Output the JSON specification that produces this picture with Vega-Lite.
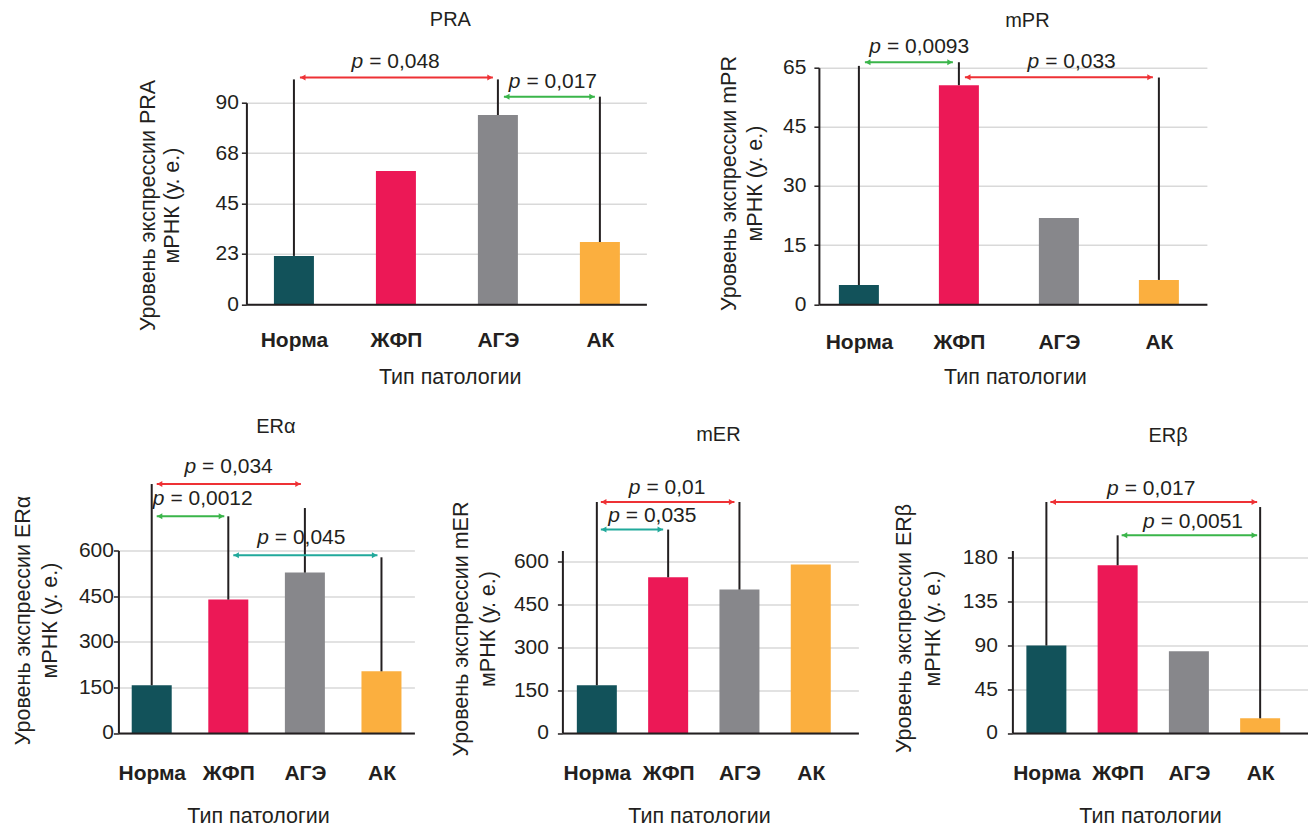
{
  "$schema": "https://vega.github.io/schema/vega-lite/v6.json",
  "background": "white",
  "padding": {"left": 11.4, "top": 9.7, "right": 0, "bottom": 0},
  "datasets": {
    "pra": [
      {"g": "Норма", "i": 0, "v": 21.6, "up": 100.4},
      {"g": "ЖФП", "i": 1, "v": 59.5},
      {"g": "АГЭ", "i": 2, "v": 84.5, "up": 100.4},
      {"g": "АК", "i": 3, "v": 27.8, "up": 92.7}
    ],
    "pra_p": [
      {"from": 0, "to": 2, "y": 101.3, "tx": 0.708, "label": "= 0,048", "arrow": "red"},
      {"from": 2, "to": 3, "y": 92.7, "tx": 2.25, "label": "= 0,017", "arrow": "green"}
    ],
    "mpr": [
      {"g": "Норма", "i": 0, "v": 5.3, "up": 65.5},
      {"g": "ЖФП", "i": 1, "v": 60.2, "up": 66.5},
      {"g": "АГЭ", "i": 2, "v": 23.7},
      {"g": "АК", "i": 3, "v": 6.7, "up": 62.3}
    ],
    "mpr_p": [
      {"from": 0, "to": 1, "y": 66.5, "tx": 0.25, "label": "= 0,0093", "arrow": "green"},
      {"from": 1, "to": 3, "y": 62.4, "tx": 1.833, "label": "= 0,033", "arrow": "red"}
    ],
    "era": [
      {"g": "Норма", "i": 0, "v": 156.8, "up": 818.5},
      {"g": "ЖФП", "i": 1, "v": 438.5, "up": 712.4},
      {"g": "АГЭ", "i": 2, "v": 527.3, "up": 739.6},
      {"g": "АК", "i": 3, "v": 202.8, "up": 577.6}
    ],
    "era_p": [
      {"from": 0, "to": 2, "y": 818.5, "tx": 0.619, "label": "= 0,034", "arrow": "red"},
      {"from": 0, "to": 1, "y": 712.4, "tx": 0.205, "label": "= 0,0012", "arrow": "green"},
      {"from": 1, "to": 3, "y": 584.2, "tx": 1.568, "label": "= 0,045", "arrow": "teal"}
    ],
    "mer": [
      {"g": "Норма", "i": 0, "v": 166.5, "up": 806.3},
      {"g": "ЖФП", "i": 1, "v": 543.5, "up": 710},
      {"g": "АГЭ", "i": 2, "v": 500.5, "up": 806.3},
      {"g": "АК", "i": 3, "v": 587.8}
    ],
    "mer_p": [
      {"from": 0, "to": 2, "y": 806.3, "tx": 0.654, "label": "= 0,01", "arrow": "red"},
      {"from": 0, "to": 1, "y": 710, "tx": 0.365, "label": "= 0,035", "arrow": "teal"}
    ],
    "erb": [
      {"g": "Норма", "i": 0, "v": 89.9, "up": 237.6},
      {"g": "ЖФП", "i": 1, "v": 172.5, "up": 203.3},
      {"g": "АГЭ", "i": 2, "v": 84},
      {"g": "АК", "i": 3, "v": 15.1, "up": 232.4}
    ],
    "erb_p": [
      {"from": 0, "to": 3, "y": 237.6, "tx": 1.058, "label": "= 0,017", "arrow": "red"},
      {"from": 1, "to": 3, "y": 203.3, "tx": 1.563, "label": "= 0,0051", "arrow": "green"}
    ]
  },
  "spacing": 27.8,
  "vconcat": [
    {
      "spacing": 0,
      "hconcat": [
        {"width": 17.6, "height": 10, "data": {"values": []}, "mark": {"type": "point"}, "encoding": {}},
        {
          "spacing": 71.5,
          "hconcat": [
            {
              "width": 400, "height": 236.6,
              "title": {"text": "PRA", "offset": 5, "dx": 4, "baseline": "alphabetic", "anchor": "middle", "frame": "group"},
              "layer": [
                {"data": {"name": "pra"}, "mark": {"type": "bar", "orient": "vertical", "size": 40},
                 "encoding": {
                   "x": {"field": "i", "type": "quantitative", "scale": {"domain": [-0.466, 3.456], "nice": false, "zero": false, "padding": 0},
                         "axis": {"title": "Тип патологии", "values": [0, 1, 2, 3], "labelExpr": "['Норма','ЖФП','АГЭ','АК'][datum.value]", "grid": false, "ticks": false, "tickSize": 0, "labelPadding": 42.4, "labelBaseline": "alphabetic", "labelFontWeight": "bold", "labelFontSize": 21, "labelFlush": false, "labelOverlap": false, "titleX": 203.3, "titleY": 79, "titleBaseline": "alphabetic", "zindex": 1}},
                   "y": {"field": "v", "type": "quantitative", "scale": {"domain": [0, 90], "range": [236.6, 35], "nice": false},
                         "axis": {"title": ["Уровень экспрессии PRA", "мРНК (у. е.)"], "values": [0, 22.5, 45, 67.5, 90], "format": ".0f", "labelPadding": 3, "titleX": -87, "titleY": 137.3, "titleLineHeight": 24}},
                   "color": {"field": "g", "type": "nominal", "scale": {"domain": ["Норма", "ЖФП", "АГЭ", "АК", "red", "green", "teal"], "range": ["#12525A", "#EC1856", "#87878B", "#FBAF3F", "#EE3135", "#3AB54A", "#21A99B"]}, "legend": null}
                 }},
                {"data": {"name": "pra"}, "transform": [{"filter": {"field": "up", "valid": true}}], "mark": {"type": "rule", "color": "#231F20", "strokeWidth": 2},
                 "encoding": {"x": {"field": "i", "type": "quantitative"}, "y": {"field": "v", "type": "quantitative"}, "y2": {"field": "up"}}},
                {"data": {"name": "pra_p"}, "mark": {"type": "rule", "strokeWidth": 2, "xOffset": 6, "x2Offset": -5},
                 "encoding": {"x": {"field": "from", "type": "quantitative"}, "x2": {"field": "to"}, "y": {"field": "y", "type": "quantitative"}, "color": {"field": "arrow", "type": "nominal", "legend": null}}},
                {"data": {"name": "pra_p"}, "mark": {"type": "point", "shape": "triangle-left", "filled": true, "size": 36, "opacity": 1, "xOffset": 9},
                 "encoding": {"x": {"field": "from", "type": "quantitative"}, "y": {"field": "y", "type": "quantitative"}, "color": {"field": "arrow", "type": "nominal", "legend": null}}},
                {"data": {"name": "pra_p"}, "mark": {"type": "point", "shape": "triangle-right", "filled": true, "size": 36, "opacity": 1, "xOffset": -8},
                 "encoding": {"x": {"field": "to", "type": "quantitative"}, "y": {"field": "y", "type": "quantitative"}, "color": {"field": "arrow", "type": "nominal", "legend": null}}},
                {"data": {"name": "pra_p"}, "mark": {"type": "text", "text": "p", "fontStyle": "italic", "align": "right", "baseline": "alphabetic", "dx": -3, "dy": -9, "fontSize": 21, "color": "#231F20"},
                 "encoding": {"x": {"field": "tx", "type": "quantitative"}, "y": {"field": "y", "type": "quantitative"}}},
                {"data": {"name": "pra_p"}, "mark": {"type": "text", "align": "left", "baseline": "alphabetic", "dx": 3, "dy": -9, "fontSize": 21, "color": "#231F20"},
                 "encoding": {"x": {"field": "tx", "type": "quantitative"}, "y": {"field": "y", "type": "quantitative"}, "text": {"field": "label"}}}
              ]
            },
            {
              "width": 388, "height": 236.6,
              "title": {"text": "mPR", "offset": -11, "dx": 14.5, "baseline": "alphabetic", "anchor": "middle", "frame": "group"},
              "layer": [
                {"data": {"name": "mpr"}, "mark": {"type": "bar", "orient": "vertical", "size": 40},
                 "encoding": {
                   "x": {"field": "i", "type": "quantitative", "scale": {"domain": [-0.4, 3.48], "nice": false, "zero": false, "padding": 0},
                         "axis": {"title": "Тип патологии", "values": [0, 1, 2, 3], "labelExpr": "['Норма','ЖФП','АГЭ','АК'][datum.value]", "grid": false, "ticks": false, "tickSize": 0, "labelPadding": 44, "labelBaseline": "alphabetic", "labelFontWeight": "bold", "labelFontSize": 21, "labelFlush": false, "labelOverlap": false, "titleX": 196, "titleY": 79.7, "titleBaseline": "alphabetic", "zindex": 1}},
                   "y": {"field": "v", "type": "quantitative", "scale": {"domain": [0, 65], "nice": false},
                         "axis": {"title": ["Уровень экспрессии mPR", "мРНК (у. е.)"], "values": [0, 16.25, 32.5, 48.75, 65], "labelExpr": "datum.value == 65 ? '65' : format(datum.value * 12 / 13, '.0f')", "labelPadding": 8, "titleX": -78.7, "titleY": 115.3, "titleLineHeight": 26.6}},
                   "color": {"field": "g", "type": "nominal", "scale": {"domain": ["Норма", "ЖФП", "АГЭ", "АК", "red", "green", "teal"], "range": ["#12525A", "#EC1856", "#87878B", "#FBAF3F", "#EE3135", "#3AB54A", "#21A99B"]}, "legend": null}
                 }},
                {"data": {"name": "mpr"}, "transform": [{"filter": {"field": "up", "valid": true}}], "mark": {"type": "rule", "color": "#231F20", "strokeWidth": 2},
                 "encoding": {"x": {"field": "i", "type": "quantitative"}, "y": {"field": "v", "type": "quantitative"}, "y2": {"field": "up"}}},
                {"data": {"name": "mpr_p"}, "mark": {"type": "rule", "strokeWidth": 2, "xOffset": 6, "x2Offset": -6},
                 "encoding": {"x": {"field": "from", "type": "quantitative"}, "x2": {"field": "to"}, "y": {"field": "y", "type": "quantitative"}, "color": {"field": "arrow", "type": "nominal", "legend": null}}},
                {"data": {"name": "mpr_p"}, "mark": {"type": "point", "shape": "triangle-left", "filled": true, "size": 36, "opacity": 1, "xOffset": 9},
                 "encoding": {"x": {"field": "from", "type": "quantitative"}, "y": {"field": "y", "type": "quantitative"}, "color": {"field": "arrow", "type": "nominal", "legend": null}}},
                {"data": {"name": "mpr_p"}, "mark": {"type": "point", "shape": "triangle-right", "filled": true, "size": 36, "opacity": 1, "xOffset": -9},
                 "encoding": {"x": {"field": "to", "type": "quantitative"}, "y": {"field": "y", "type": "quantitative"}, "color": {"field": "arrow", "type": "nominal", "legend": null}}},
                {"data": {"name": "mpr_p"}, "mark": {"type": "text", "text": "p", "fontStyle": "italic", "align": "right", "baseline": "alphabetic", "dx": -3, "dy": -9, "fontSize": 21, "color": "#231F20"},
                 "encoding": {"x": {"field": "tx", "type": "quantitative"}, "y": {"field": "y", "type": "quantitative"}}},
                {"data": {"name": "mpr_p"}, "mark": {"type": "text", "align": "left", "baseline": "alphabetic", "dx": 3, "dy": -9, "fontSize": 21, "color": "#231F20"},
                 "encoding": {"x": {"field": "tx", "type": "quantitative"}, "y": {"field": "y", "type": "quantitative"}, "text": {"field": "label"}}}
              ]
            }
          ]
        }
      ]
    },
    {
      "spacing": 35,
      "hconcat": [
        {
          "width": 296, "height": 182.5,
          "title": {"text": "ERα", "offset": 3, "dx": 9.5, "baseline": "alphabetic", "anchor": "middle", "frame": "group"},
          "layer": [
            {"data": {"name": "era"}, "mark": {"type": "bar", "orient": "vertical", "size": 40},
             "encoding": {
               "x": {"field": "i", "type": "quantitative", "scale": {"domain": [-0.435, 3.43], "nice": false, "zero": false, "padding": 0},
                     "axis": {"title": "Тип патологии", "values": [0, 1, 2, 3], "labelExpr": "['Норма','ЖФП','АГЭ','АК'][datum.value]", "grid": false, "ticks": false, "tickSize": 0, "labelPadding": 46.6, "labelBaseline": "alphabetic", "labelFontWeight": "bold", "labelFontSize": 21, "labelFlush": false, "labelOverlap": false, "titleX": 139.7, "titleY": 90, "titleBaseline": "alphabetic", "zindex": 1}},
               "y": {"field": "v", "type": "quantitative", "scale": {"domain": [0, 600], "nice": false},
                     "axis": {"title": ["Уровень экспрессии ERα", "мРНК (у. е.)"], "values": [0, 150, 300, 450, 600], "labelPadding": 0, "titleX": -84.3, "titleY": 69.5, "titleLineHeight": 27.5}},
               "color": {"field": "g", "type": "nominal", "scale": {"domain": ["Норма", "ЖФП", "АГЭ", "АК", "red", "green", "teal"], "range": ["#12525A", "#EC1856", "#87878B", "#FBAF3F", "#EE3135", "#3AB54A", "#21A99B"]}, "legend": null}
             }},
            {"data": {"name": "era"}, "transform": [{"filter": {"field": "up", "valid": true}}], "mark": {"type": "rule", "color": "#231F20", "strokeWidth": 2},
             "encoding": {"x": {"field": "i", "type": "quantitative"}, "y": {"field": "v", "type": "quantitative"}, "y2": {"field": "up"}}},
            {"data": {"name": "era_p"}, "mark": {"type": "rule", "strokeWidth": 2, "xOffset": 5, "x2Offset": -4},
             "encoding": {"x": {"field": "from", "type": "quantitative"}, "x2": {"field": "to"}, "y": {"field": "y", "type": "quantitative"}, "color": {"field": "arrow", "type": "nominal", "legend": null}}},
            {"data": {"name": "era_p"}, "mark": {"type": "point", "shape": "triangle-left", "filled": true, "size": 36, "opacity": 1, "xOffset": 8},
             "encoding": {"x": {"field": "from", "type": "quantitative"}, "y": {"field": "y", "type": "quantitative"}, "color": {"field": "arrow", "type": "nominal", "legend": null}}},
            {"data": {"name": "era_p"}, "mark": {"type": "point", "shape": "triangle-right", "filled": true, "size": 36, "opacity": 1, "xOffset": -7},
             "encoding": {"x": {"field": "to", "type": "quantitative"}, "y": {"field": "y", "type": "quantitative"}, "color": {"field": "arrow", "type": "nominal", "legend": null}}},
            {"data": {"name": "era_p"}, "mark": {"type": "text", "text": "p", "fontStyle": "italic", "align": "right", "baseline": "alphabetic", "dx": -3, "dy": -11, "fontSize": 21, "color": "#231F20"},
             "encoding": {"x": {"field": "tx", "type": "quantitative"}, "y": {"field": "y", "type": "quantitative"}}},
            {"data": {"name": "era_p"}, "mark": {"type": "text", "align": "left", "baseline": "alphabetic", "dx": 3, "dy": -11, "fontSize": 21, "color": "#231F20"},
             "encoding": {"x": {"field": "tx", "type": "quantitative"}, "y": {"field": "y", "type": "quantitative"}, "text": {"field": "label"}}}
          ]
        },
        {
          "width": 296, "height": 182.5,
          "title": {"text": "mER", "offset": 16.3, "dx": 8, "baseline": "alphabetic", "anchor": "middle", "frame": "group"},
          "layer": [
            {"data": {"name": "mer"}, "mark": {"type": "bar", "orient": "vertical", "size": 40},
             "encoding": {
               "x": {"field": "i", "type": "quantitative", "scale": {"domain": [-0.483, 3.668], "nice": false, "zero": false, "padding": 0},
                     "axis": {"title": "Тип патологии", "values": [0, 1, 2, 3], "labelExpr": "['Норма','ЖФП','АГЭ','АК'][datum.value]", "grid": false, "ticks": false, "tickSize": 0, "labelPadding": 46.6, "labelBaseline": "alphabetic", "labelFontWeight": "bold", "labelFontSize": 21, "labelFlush": false, "labelOverlap": false, "titleX": 136.7, "titleY": 90, "titleBaseline": "alphabetic", "zindex": 1}},
               "y": {"field": "v", "type": "quantitative", "scale": {"domain": [0, 637], "nice": false},
                     "axis": {"title": ["Уровень экспрессии mER", "мРНК (у. е.)"], "values": [0, 150, 300, 450, 600], "labelPadding": 9, "titleX": -90.2, "titleY": 78, "titleLineHeight": 27.7}},
               "color": {"field": "g", "type": "nominal", "scale": {"domain": ["Норма", "ЖФП", "АГЭ", "АК", "red", "green", "teal"], "range": ["#12525A", "#EC1856", "#87878B", "#FBAF3F", "#EE3135", "#3AB54A", "#21A99B"]}, "legend": null}
             }},
            {"data": {"name": "mer"}, "transform": [{"filter": {"field": "up", "valid": true}}], "mark": {"type": "rule", "color": "#231F20", "strokeWidth": 2},
             "encoding": {"x": {"field": "i", "type": "quantitative"}, "y": {"field": "v", "type": "quantitative"}, "y2": {"field": "up"}}},
            {"data": {"name": "mer_p"}, "mark": {"type": "rule", "strokeWidth": 2, "xOffset": 4, "x2Offset": -5},
             "encoding": {"x": {"field": "from", "type": "quantitative"}, "x2": {"field": "to"}, "y": {"field": "y", "type": "quantitative"}, "color": {"field": "arrow", "type": "nominal", "legend": null}}},
            {"data": {"name": "mer_p"}, "mark": {"type": "point", "shape": "triangle-left", "filled": true, "size": 36, "opacity": 1, "xOffset": 7},
             "encoding": {"x": {"field": "from", "type": "quantitative"}, "y": {"field": "y", "type": "quantitative"}, "color": {"field": "arrow", "type": "nominal", "legend": null}}},
            {"data": {"name": "mer_p"}, "mark": {"type": "point", "shape": "triangle-right", "filled": true, "size": 36, "opacity": 1, "xOffset": -8},
             "encoding": {"x": {"field": "to", "type": "quantitative"}, "y": {"field": "y", "type": "quantitative"}, "color": {"field": "arrow", "type": "nominal", "legend": null}}},
            {"data": {"name": "mer_p"}, "mark": {"type": "text", "text": "p", "fontStyle": "italic", "align": "right", "baseline": "alphabetic", "dx": -3, "dy": -8, "fontSize": 21, "color": "#231F20"},
             "encoding": {"x": {"field": "tx", "type": "quantitative"}, "y": {"field": "y", "type": "quantitative"}}},
            {"data": {"name": "mer_p"}, "mark": {"type": "text", "align": "left", "baseline": "alphabetic", "dx": 3, "dy": -8, "fontSize": 21, "color": "#231F20"},
             "encoding": {"x": {"field": "tx", "type": "quantitative"}, "y": {"field": "y", "type": "quantitative"}, "text": {"field": "label"}}}
          ]
        },
        {
          "width": 296, "height": 182.5,
          "title": {"text": "ERβ", "offset": 16.4, "dx": 7.7, "baseline": "alphabetic", "anchor": "middle", "frame": "group"},
          "layer": [
            {"data": {"name": "erb"}, "mark": {"type": "bar", "orient": "vertical", "size": 40},
             "encoding": {
               "x": {"field": "i", "type": "quantitative", "scale": {"domain": [-0.477, 3.677], "nice": false, "zero": false, "padding": 0},
                     "axis": {"title": "Тип патологии", "values": [0, 1, 2, 3], "labelExpr": "['Норма','ЖФП','АГЭ','АК'][datum.value]", "grid": false, "ticks": false, "tickSize": 0, "labelPadding": 46.6, "labelBaseline": "alphabetic", "labelFontWeight": "bold", "labelFontSize": 21, "labelFlush": false, "labelOverlap": false, "titleX": 137.7, "titleY": 90, "titleBaseline": "alphabetic", "zindex": 1}},
               "y": {"field": "v", "type": "quantitative", "scale": {"domain": [0, 187.7], "nice": false},
                     "axis": {"title": ["Уровень экспрессии ERβ", "мРНК (у. е.)"], "values": [0, 45, 90, 135, 180], "labelPadding": 10, "titleX": -96.6, "titleY": 77.5, "titleLineHeight": 29}},
               "color": {"field": "g", "type": "nominal", "scale": {"domain": ["Норма", "ЖФП", "АГЭ", "АК", "red", "green", "teal"], "range": ["#12525A", "#EC1856", "#87878B", "#FBAF3F", "#EE3135", "#3AB54A", "#21A99B"]}, "legend": null}
             }},
            {"data": {"name": "erb"}, "transform": [{"filter": {"field": "up", "valid": true}}], "mark": {"type": "rule", "color": "#231F20", "strokeWidth": 2},
             "encoding": {"x": {"field": "i", "type": "quantitative"}, "y": {"field": "v", "type": "quantitative"}, "y2": {"field": "up"}}},
            {"data": {"name": "erb_p"}, "mark": {"type": "rule", "strokeWidth": 2, "xOffset": 4, "x2Offset": -3},
             "encoding": {"x": {"field": "from", "type": "quantitative"}, "x2": {"field": "to"}, "y": {"field": "y", "type": "quantitative"}, "color": {"field": "arrow", "type": "nominal", "legend": null}}},
            {"data": {"name": "erb_p"}, "mark": {"type": "point", "shape": "triangle-left", "filled": true, "size": 36, "opacity": 1, "xOffset": 7},
             "encoding": {"x": {"field": "from", "type": "quantitative"}, "y": {"field": "y", "type": "quantitative"}, "color": {"field": "arrow", "type": "nominal", "legend": null}}},
            {"data": {"name": "erb_p"}, "mark": {"type": "point", "shape": "triangle-right", "filled": true, "size": 36, "opacity": 1, "xOffset": -6},
             "encoding": {"x": {"field": "to", "type": "quantitative"}, "y": {"field": "y", "type": "quantitative"}, "color": {"field": "arrow", "type": "nominal", "legend": null}}},
            {"data": {"name": "erb_p"}, "mark": {"type": "text", "text": "p", "fontStyle": "italic", "align": "right", "baseline": "alphabetic", "dx": -3, "dy": -7, "fontSize": 21, "color": "#231F20"},
             "encoding": {"x": {"field": "tx", "type": "quantitative"}, "y": {"field": "y", "type": "quantitative"}}},
            {"data": {"name": "erb_p"}, "mark": {"type": "text", "align": "left", "baseline": "alphabetic", "dx": 3, "dy": -7, "fontSize": 21, "color": "#231F20"},
             "encoding": {"x": {"field": "tx", "type": "quantitative"}, "y": {"field": "y", "type": "quantitative"}, "text": {"field": "label"}}}
          ]
        }
      ]
    }
  ],
  "config": {
    "font": "Liberation Sans",
    "view": {"stroke": null},
    "title": {"font": "Liberation Sans", "fontSize": 20, "fontWeight": "normal", "color": "#231F20"},
    "text": {"font": "Liberation Sans"},
    "axis": {
      "labelFont": "Liberation Sans", "titleFont": "Liberation Sans",
      "labelColor": "#231F20", "titleColor": "#231F20",
      "labelFontSize": 21, "titleFontSize": 21.5, "titleFontWeight": "normal",
      "domainColor": "#231F20", "domainWidth": 2,
      "tickColor": "#231F20", "tickWidth": 1.5, "tickSize": 5,
      "gridColor": "#D9D9D9", "gridWidth": 1.5,
      "labelFlush": false
    },
    "axisY": {"grid": true}
  }
}
